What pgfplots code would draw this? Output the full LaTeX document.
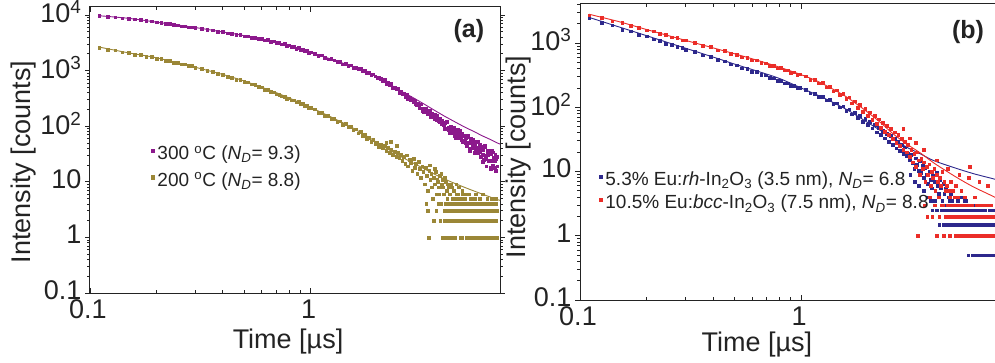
\documentclass[border=0pt]{standalone}
\usepackage{pgfplots}
\pgfplotsset{compat=1.18}
\usepackage{fontspec}
\setmainfont{Liberation Sans}
\definecolor{cpur}{RGB}{140,25,140}
\definecolor{coli}{RGB}{155,135,55}
\definecolor{cnav}{RGB}{45,40,140}
\definecolor{cred}{RGB}{235,45,40}
\definecolor{cax}{RGB}{35,35,35}
\pgfplotsset{
 every axis/.append style={
  scale only axis,
  axis line style={cax, line width=1pt},
  tick style={cax, line width=0.8pt},
  major tick length=5pt, minor tick length=3pt,
  xtick align=inside, ytick align=outside,
  ticklabel style={font=\fontsize{27}{27}\selectfont, text=cax},
  xticklabel style={yshift=-3pt, xshift=-2pt},
  yticklabel style={yshift=3pt},
  label style={font=\fontsize{27}{27}\selectfont, text=cax},
  legend style={draw=none, fill=none, font=\fontsize{19}{19}\selectfont, text=cax, inner sep=0pt, column sep=3pt,
    nodes={inner sep=0pt, text height=14pt, text depth=6pt}},
  legend cell align=left,
 },
 datpts/.style={only marks, mark=square*, mark size=1.35pt, color=#1},
 fitline/.style={color=#1, line width=0.9pt, smooth, forget plot},
}
\begin{document}
\begin{tikzpicture}
\path[use as bounding box] (0,0) rectangle (995pt,362pt);
% ---------------- panel (a)
\begin{axis}[xmode=log, ymode=log, at={(90pt,69pt)}, anchor=south west, width=410pt, height=286pt,
 xmin=0.1, xmax=7.21, ymin=0.1, ymax=13930,
 ytick={0.1,1,10,100,1000,10000},
 yticklabels={0.1,1,10,10\textsuperscript{2},10\textsuperscript{3},10\textsuperscript{4}},
 xtick={0.1,1}, xticklabels={0.1,1},
 xlabel={Time [µs]}, ylabel={Intensity [counts]},
 xlabel style={at={(axis description cs:0.483,-0.168)}, anchor=center},
 ylabel style={at={(axis description cs:-0.161,0.458)}, anchor=center},
 legend image code/.code={\draw[#1, mark size=1.6pt] plot coordinates {(0pt,5pt)};},
 legend style={at={(axis description cs:0.149,0.434)}, anchor=west, row sep=6.5pt}]
\addplot[datpts=cpur] coordinates {
(0.11,9600)(0.12,9310)(0.13,9180)(0.14,8810)(0.15,8680)(0.16,8360)(0.17,8220)(0.18,7900)(0.19,7720)(0.20,7380)(0.21,7290)(0.22,6950)(0.23,6880)(0.24,6600)(0.25,6530)(0.26,6310)(0.27,6260)(0.28,6030)(0.29,6040)(0.30,5830)
(0.32,5720)(0.34,5390)(0.36,5310)(0.38,4990)(0.40,4960)(0.42,4680)(0.44,4650)(0.46,4400)(0.48,4410)(0.50,4160)(0.52,4170)(0.54,3930)(0.56,3960)(0.58,3740)(0.60,3760)(0.62,3540)(0.64,3560)(0.66,3330)(0.68,3370)(0.70,3140)(0.72,3180)(0.74,2980)(0.76,3020)(0.78,2820)(0.80,2860)(0.82,2660)(0.84,2700)(0.86,2500)(0.88,2550)(0.90,2370)(0.92,2410)(0.94,2220)(0.96,2270)(0.98,2090)(1.00,2130)
(1.04,2014)(1.08,1847)(1.12,1886)(1.16,1726)(1.20,1594)(1.24,1627)(1.28,1536)(1.32,1441)(1.36,1455)(1.40,1301)(1.44,1321)(1.48,1240)(1.52,1258)(1.56,1142)(1.60,1144)(1.64,1091)(1.68,1085)(1.72,983)(1.76,1004)(1.80,930)(1.84,916)(1.88,846)(1.92,862)(1.96,790)(2.00,730)
(2.04,756)(2.08,705)(2.12,647)(2.16,678)(2.20,576)(2.24,604)(2.28,550)(2.32,575)(2.36,491)(2.40,497)(2.44,465)(2.48,469)(2.52,403)(2.56,425)(2.60,379)(2.64,383)(2.68,342)(2.72,368)(2.76,310)(2.80,331)(2.84,292)(2.88,303)(2.92,275)(2.96,285)(3.00,248)
(3.05,257)(3.10,217)(3.15,249)(3.20,210)(3.25,180)(3.30,208)(3.35,189)(3.40,168)(3.45,189)(3.50,146)(3.55,166)(3.60,146)(3.65,162)(3.70,130)(3.75,137)(3.80,127)(3.85,135)(3.90,108)(3.95,124)(4.00,107)
(4.05,114)(4.10,90)(4.15,119)(4.20,93)(4.25,75)(4.30,100)(4.35,90)(4.40,77)(4.45,96)(4.50,66)(4.55,84)(4.60,71)(4.65,87)(4.70,62)(4.75,71)(4.80,65)(4.85,74)(4.90,53)(4.95,68)(5.00,54)
(5.05,63)(5.10,44)(5.15,69)(5.20,50)(5.25,36)(5.30,58)(5.35,50)(5.40,40)(5.45,57)(5.50,33)(5.55,49)(5.60,39)(5.65,54)(5.70,33)(5.75,42)(5.80,38)(5.85,46)(5.90,28)(5.95,43)(6.00,31)
(6.05,38)(6.10,25)(6.15,44)(6.20,30)(6.25,19)(6.30,36)(6.35,31)(6.40,24)(6.45,37)(6.50,18)(6.55,32)(6.60,24)(6.65,36)(6.70,20)(6.75,27)(6.80,24)(6.85,31)(6.90,16)(6.95,28)(7.00,19)
(3.025,242)(3.125,248)(3.225,190)(3.325,207)(3.425,173)(3.525,165)(3.625,137)(3.725,153)(3.825,122)(3.925,124)
(4.025,90)(4.125,119)(4.225,86)(4.325,91)(4.425,92)(4.525,63)(4.625,71)(4.725,82)(4.825,56)(4.925,66)
(5.025,51)(5.125,65)(5.225,40)(5.325,60)(5.425,45)(5.525,47)(5.625,35)(5.725,52)(5.825,35)(5.925,41)
(6.025,23)(6.125,43)(6.225,26)(6.325,31)(6.425,35)(6.525,17)(6.625,24)(6.725,34)(6.825,18)(6.925,26)
};
\addlegendentry{300 \textsuperscript{o}C (\textit{N}\textsubscript{\textit{D}}= 9.3)}
\addplot[datpts=coli] coordinates {
(0.11,2600)(0.12,2400)(0.13,2340)(0.14,2150)(0.15,2110)(0.16,1950)(0.17,1930)(0.18,1790)(0.19,1780)(0.20,1660)(0.21,1640)(0.22,1520)(0.23,1510)(0.24,1400)(0.25,1390)(0.26,1300)(0.27,1300)(0.28,1210)(0.29,1210)(0.30,1135)
(0.32,1090)(0.34,990)(0.36,955)(0.38,870)(0.40,845)(0.42,772)(0.44,756)(0.46,693)(0.48,683)(0.50,630)(0.52,622)(0.54,570)(0.56,557)(0.58,508)(0.60,500)(0.62,457)(0.64,452)(0.66,413)(0.68,409)(0.70,376)(0.72,373)(0.74,345)(0.76,343)(0.78,316)(0.80,317)(0.82,292)(0.84,294)(0.86,271)(0.88,273)(0.90,252)(0.92,252)(0.94,232)(0.96,233)(0.98,214)(1.00,215)
(1.04,203)(1.08,176)(1.12,177)(1.16,154)(1.20,156)(1.24,135)(1.28,138)(1.32,119)(1.36,123)(1.40,106)(1.44,110)(1.48,96)(1.52,99)(1.56,85)(1.60,88)(1.64,75)(1.68,79)(1.72,67)(1.76,70)(1.80,59)(1.84,63)(1.88,53)(1.92,57)(1.96,48)(2.00,51)(2.04,43)(2.08,47)(2.12,40)(2.16,44)(2.20,36)(2.24,41)(2.28,33)(2.32,38)(2.36,31)(2.40,35)(2.44,28)(2.48,33)(2.52,27)
(2.2,50)(2.3,52)(2.45,44)
(2.56,31)(2.60,24)(2.64,28)(2.68,21)(2.72,30)(2.76,19)(2.80,25)(2.84,22)(2.88,16)(2.92,26)(2.96,18)(3.00,21)(3.04,14)(3.08,23)(3.12,17)(3.16,12)(3.20,19)(3.24,15)(3.28,9)(3.32,18)(3.36,13)(3.40,7)(3.44,16)(3.48,11)(3.52,14)(3.56,5)(3.60,12)(3.64,9)(3.68,15)(3.72,6)(3.76,10)(3.80,8)(3.84,13)(3.88,4)(3.92,9)(3.96,11)
(4.00,6)(4.04,3)(4.08,10)(4.12,7)(4.16,5)(4.20,8)(4.24,4)(4.28,6)(4.32,9)(4.36,3)(4.40,5)(4.44,7)(4.48,4)(4.52,2)(4.56,6)(4.60,5)(4.64,3)(4.68,8)(4.72,4)(4.76,1)(4.80,5)(4.84,3)(4.88,6)(4.92,4)(4.96,2)
(5.00,5)(5.04,3)(5.08,4)(5.12,1)(5.16,6)(5.20,3)(5.24,4)(5.28,2)(5.32,5)(5.36,4)(5.40,3)(5.44,1)(5.48,4)(5.52,3)(5.56,5)(5.60,2)(5.64,4)(5.68,3)(5.72,1)(5.76,4)(5.80,2)(5.84,5)(5.88,3)(5.92,4)(5.96,2)
(6.00,3)(6.04,1)(6.08,4)(6.12,3)(6.16,2)(6.20,4)(6.24,1)(6.28,3)(6.32,2)(6.36,4)(6.40,3)(6.44,1)(6.48,2)(6.52,4)(6.56,3)(6.60,1)(6.64,2)(6.68,3)(6.72,4)(6.76,2)(6.80,1)(6.84,3)(6.88,2)(6.92,4)(6.96,1)(7.00,3)
(3.34,4)(3.38,3)(3.42,1)(3.62,2)(3.70,3)(3.78,4)(3.86,2)(3.94,1)(4.02,1)(4.06,2)(4.10,4)(4.14,1)(4.18,3)(4.22,2)(4.26,1)(4.30,4)(4.34,2)(4.38,1)(4.42,3)(4.46,2)(4.50,1)(4.54,4)(4.58,3)(4.62,2)(4.66,4)(4.70,3)(4.74,2)(4.78,4)(4.82,3)(4.86,1)(4.90,2)(4.94,3)(4.98,4)
(5.02,2)(5.06,1)(5.10,3)(5.14,4)(5.18,2)(5.22,1)(5.26,3)(5.30,2)(5.34,1)(5.38,4)(5.42,2)(5.46,3)(5.50,1)(5.54,2)(5.58,4)(5.62,1)(5.66,2)(5.70,3)(5.74,2)(5.78,1)(5.82,3)(5.86,2)(5.90,1)(5.94,3)(5.98,4)
(6.02,2)(6.06,3)(6.10,2)(6.14,4)(6.18,1)(6.22,3)(6.26,2)(6.30,4)(6.34,1)(6.38,2)(6.42,3)(6.46,2)(6.50,4)(6.54,1)(6.58,2)(6.62,3)(6.66,1)(6.70,2)(6.74,3)(6.78,1)(6.82,4)(6.86,2)(6.90,3)(6.94,2)(6.98,1)
(3.46,20)(3.54,8)(3.66,17)(3.74,11)(3.82,6)(3.90,14)(3.98,8)(4.06,12)(4.16,9)(4.26,6)(4.36,8)(4.46,5)(4.56,9)(4.66,6)(4.76,5)(4.86,7)(4.96,6)(5.2,6)(5.4,5)(5.6,6)(5.8,5)(6.0,6)(6.3,5)(6.6,5)(6.9,5)
};
\addlegendentry{200 \textsuperscript{o}C (\textit{N}\textsubscript{\textit{D}}= 8.8)}
\addplot[fitline=cpur] coordinates {(0.11,9700)(0.15,8700)(0.2,7450)(0.3,5950)(0.4,4950)(0.5,4250)(0.7,3220)(1.0,2100)(1.4,1360)(2.0,765)(2.5,455)(3.0,305)(3.5,212)(4.0,155)(4.5,120)(5.0,96)(5.5,80)(6.0,67)(6.5,58)(7.0,50)(7.3,47)};
\addplot[fitline=coli] coordinates {(0.11,2650)(0.15,2080)(0.2,1700)(0.3,1150)(0.4,850)(0.5,650)(0.7,400)(0.9,262)(1.2,155)(1.5,100)(1.8,66)(2.1,45)(2.5,30)(3.0,20.5)(3.6,14)(4.2,10.5)(5.0,7.9)(6.0,6.0)(7.0,4.8)(7.3,4.6)};
\node[font=\bfseries\fontsize{25}{25}\selectfont, text=cax] at (rel axis cs:0.924,0.916) {(a)};
\end{axis}
% ---------------- panel (b)
\begin{axis}[xmode=log, ymode=log, at={(580pt,62pt)}, anchor=south west, width=442pt, height=296pt,
 xmin=0.1, xmax=10, ymin=0.1, ymax=4045,
 ytick={0.1,1,10,100,1000,10000},
 yticklabels={0.1,1,10,10\textsuperscript{2},10\textsuperscript{3},10\textsuperscript{4}},
 xtick={0.1,1}, xticklabels={0.1,1},
 xlabel={Time [µs]}, ylabel={Intensity [counts]},
 xlabel style={at={(axis description cs:0.40,-0.150)}, anchor=center},
 ylabel style={at={(axis description cs:-0.140,0.483)}, anchor=center},
 legend image code/.code={\draw[#1, mark size=1.6pt] plot coordinates {(0pt,5pt)};},
 legend style={at={(axis description cs:0.043,0.361)}, anchor=west, row sep=3.5pt}]
\addplot[datpts=cnav] coordinates {
(0.11,2470)(0.125,2080)(0.14,1890)(0.155,1630)(0.17,1520)(0.185,1340)(0.2,1270)(0.215,1140)(0.23,1090)(0.245,985)(0.26,950)(0.275,870)(0.29,845)(0.30,790)
(0.33,735)(0.36,645)(0.39,612)(0.42,545)(0.45,520)(0.48,468)(0.51,451)(0.54,406)(0.57,396)(0.60,360)(0.63,354)(0.66,320)(0.69,316)(0.72,288)(0.75,284)(0.78,260)(0.81,259)(0.84,237)(0.87,237)(0.90,218)(0.93,219)(0.96,200)(0.99,201)
(1.05,186)(1.10,166)(1.15,164)(1.20,147)(1.25,147)(1.30,129)(1.35,131)(1.40,113)(1.45,115)(1.50,100)(1.55,104)(1.60,89)(1.65,93)(1.70,78)(1.75,82)(1.80,68)(1.85,74)(1.90,60)(1.95,66)(2.00,54)
(2.05,60)(2.10,47)(2.15,53)(2.20,41)(2.25,48)(2.30,37)(2.35,43)(2.40,33)(2.45,39)(2.50,29)(2.55,36)(2.60,26)(2.65,32)(2.70,23)(2.75,29)(2.80,21)(2.85,26)(2.90,19)(2.95,24)(3.00,17.5)
(3.05,19.1)(3.10,15.2)(3.15,18.4)(3.20,13.6)(3.25,11.0)(3.30,16.1)(3.35,12.9)(3.40,10.4)(3.45,14.8)(3.50,9.5)(3.55,12.6)(3.60,8.0)(3.65,11.3)(3.70,9.0)(3.75,6.5)(3.80,10.0)(3.85,7.5)(3.90,5.5)(3.95,8.5)(4.00,7.0)
(4.05,5.0)(4.10,9.5)(4.15,6.0)(4.20,4.5)(4.25,7.5)(4.30,5.5)(4.35,3.5)(4.40,6.5)(4.45,4.5)(4.50,5.5)(4.55,3.0)(4.60,5.0)(4.65,4.0)(4.70,2.5)(4.75,4.5)(4.80,3.5)(4.85,5.0)(4.90,2.5)(4.95,4.0)(5.00,3.0)
(5.05,2.5)(5.10,3.5)(5.15,1.5)(5.20,3.0)(5.25,2.5)(5.30,4.0)(5.35,2.0)(5.40,3.0)(5.45,1.5)(5.50,2.5)(5.55,3.5)(5.60,1.5)(5.65,2.5)(5.70,0.5)(5.75,2.0)(5.80,3.0)(5.85,1.5)(5.90,2.5)(5.95,0.5)(6.00,2.0)
(6.05,1.5)(6.10,3.0)(6.15,0.5)(6.20,2.5)(6.25,1.5)(6.30,0.5)(6.35,2.0)(6.40,1.5)(6.45,2.5)(6.50,0.5)(6.55,1.5)(6.60,2.0)(6.65,0.5)(6.70,1.5)(6.75,2.5)(6.80,0.5)(6.85,1.0)(6.90,1.5)(6.95,0.5)(7.00,2.0)
(7.05,1.5)(7.10,0.5)(7.15,1.0)(7.20,1.5)(7.25,0.5)(7.30,2.5)(7.35,0.5)(7.40,1.5)(7.45,1.0)(7.50,0.5)(7.55,1.5)(7.60,0.5)(7.65,2.0)(7.70,0.5)(7.75,1.5)(7.80,1.0)(7.85,0.5)(7.90,1.5)(7.95,0.5)(8.00,1.0)
(3.92,2.5)(4.02,3.5)(4.12,2.5)(4.22,1.5)(4.32,2.5)(4.42,1.5)(4.52,2.5)(4.62,1.5)(4.72,3.5)(4.82,1.5)(4.92,2.5)(5.02,1.5)(5.12,2.5)(5.22,1.5)(5.32,2.5)(5.42,1.5)(5.52,3.5)(5.62,2.5)(5.72,1.5)(5.82,2.5)(5.92,1.5)
(6.02,2.5)(6.12,1.5)(6.22,0.5)(6.32,2.5)(6.42,1.5)(6.52,2.5)(6.62,1.5)(6.72,0.5)(6.82,2.5)(6.92,1.5)(7.02,0.5)(7.12,2.5)(7.22,1.5)(7.32,0.5)(7.42,1.5)(7.52,2.5)(7.62,1.5)(7.72,0.5)(7.82,1.5)(7.92,2.5)
(3.12,9)(3.28,7)(3.42,6)(3.58,5)(3.72,4)(3.86,3.5)
};
\addlegendentry{5.3\% Eu:\textit{rh}-In\textsubscript{2}O\textsubscript{3} (3.5 nm), \textit{N}\textsubscript{\textit{D}}= 6.8}
\addplot[datpts=cred] coordinates {
(0.11,2720)(0.125,2490)(0.14,2190)(0.155,2070)(0.17,1840)(0.185,1750)(0.2,1580)(0.215,1520)(0.23,1380)(0.245,1340)(0.26,1230)(0.275,1200)(0.29,1110)(0.30,1100)
(0.33,1010)(0.36,900)(0.39,866)(0.42,775)(0.45,752)(0.48,676)(0.51,662)(0.54,602)(0.57,594)(0.60,540)(0.63,538)(0.66,489)(0.69,486)(0.72,445)(0.75,445)(0.78,407)(0.81,409)(0.84,376)(0.87,377)(0.90,348)(0.93,352)(0.96,323)(0.99,327)
(1.05,305)(1.10,268)(1.15,270)(1.20,236)(1.25,240)(1.30,206)(1.35,211)(1.40,178)(1.45,184)(1.50,155)(1.55,163)(1.60,136)(1.65,143)(1.70,115)(1.75,124)(1.80,99)(1.85,109)(1.90,85)(1.95,96)(2.00,74)
(2.05,84)(2.10,64)(2.15,74)(2.20,55)(2.25,65)(2.30,48)(2.35,58)(2.40,42)(2.45,52)(2.50,37)(2.55,46)(2.60,32)(2.65,41)(2.70,28)(2.75,37)(2.80,25)(2.85,32)(2.90,22)(2.95,29)(3.00,20)
(3.05,26)(3.10,17)(3.15,22)(3.20,14)(3.25,19)(3.30,12)(3.35,20)(3.40,15)(3.45,9)(3.50,16)(3.55,11)(3.60,14)(3.65,7)(3.70,12)(3.75,9)(3.80,13)(3.85,6)(3.90,10)(3.95,8)(4.00,11)
(4.05,5)(4.10,9)(4.15,7)(4.20,4)(4.25,8)(4.30,6)(4.35,10)(4.40,3)(4.45,7)(4.50,5)(4.55,6)(4.60,2)(4.65,5)(4.70,4)(4.75,7)(4.80,3)(4.85,5)(4.90,2)(4.95,4)(5.00,6)
(5.05,3)(5.10,2)(5.15,4)(5.20,1)(5.25,3)(5.30,5)(5.35,2)(5.40,3)(5.45,1)(5.50,4)(5.55,2)(5.60,3)(5.65,1)(5.70,2)(5.75,8)(5.80,3)(5.85,1)(5.90,2)(5.95,3)(6.00,1)
(6.05,2)(6.10,4)(6.15,1)(6.20,2)(6.25,3)(6.30,1)(6.35,2)(6.40,1)(6.45,3)(6.50,2)(6.55,1)(6.60,2)(6.65,1)(6.70,3)(6.75,1)(6.80,2)(6.85,1)(6.90,2)(6.95,1)(7.00,3)
(7.05,1)(7.10,2)(7.15,1)(7.20,1)(7.25,2)(7.30,1)(7.35,2)(7.40,1)(7.45,1)(7.50,2)(7.55,1)(7.60,1)(7.65,2)(7.70,1)(7.75,1)(7.80,2)(7.85,1)(7.90,1)(7.95,2)(8.00,1)
(3.38,1)(3.62,3)(3.72,2)(3.82,4)(3.92,2)(4.02,3)(4.12,1)(4.22,2)(4.32,3)(4.42,1)(4.52,2)(4.62,3)(4.72,1)(4.82,2)(4.92,3)(5.02,1)(5.12,2)(5.22,3)(5.32,1)(5.42,2)(5.52,3)(5.62,2)(5.72,1)(5.82,2)(5.92,3)
(6.02,2)(6.12,1)(6.22,2)(6.32,3)(6.42,2)(6.52,1)(6.62,3)(6.72,2)(6.82,1)(6.92,2)(7.02,1)(7.12,2)(7.22,3)(7.32,1)(7.42,2)(7.52,1)(7.62,2)(7.72,1)(7.82,2)(7.92,1)
(2.9,46)(3.1,33)(3.3,28)(3.6,22)(4.1,15)(4.6,11)(5.2,9)(5.8,12)(6.4,7)(7.0,6)
};
\addlegendentry{10.5\% Eu:\textit{bcc}-In\textsubscript{2}O\textsubscript{3} (7.5 nm), \textit{N}\textsubscript{\textit{D}}= 8.8}
\addplot[fitline=cnav] coordinates {(0.11,2500)(0.15,1780)(0.2,1300)(0.3,830)(0.4,605)(0.5,470)(0.65,355)(0.8,280)(1.0,200)(1.2,152)(1.4,118)(1.6,93)(1.8,73)(2.0,58)(2.3,43)(2.6,32.5)(3.0,24)(3.5,18.5)(4.0,14.7)(5.0,11.3)(6.0,9.3)(7.0,8.1)(8.0,7.2)(9.0,6.5)};
\addplot[fitline=cred] coordinates {(0.11,2800)(0.15,2150)(0.2,1620)(0.3,1100)(0.4,840)(0.5,680)(0.65,525)(0.8,420)(1.0,322)(1.2,250)(1.4,190)(1.6,146)(1.8,110)(2.0,84)(2.3,57)(2.6,39)(3.0,27)(3.5,19)(4.0,13.5)(5.0,8.3)(6.0,5.8)(7.0,4.5)(8.0,3.6)(9.0,3.0)};
\node[font=\bfseries\fontsize{25}{25}\selectfont, text=cax] at (rel axis cs:0.878,0.905) {(b)};
\end{axis}
\end{tikzpicture}
\end{document}
